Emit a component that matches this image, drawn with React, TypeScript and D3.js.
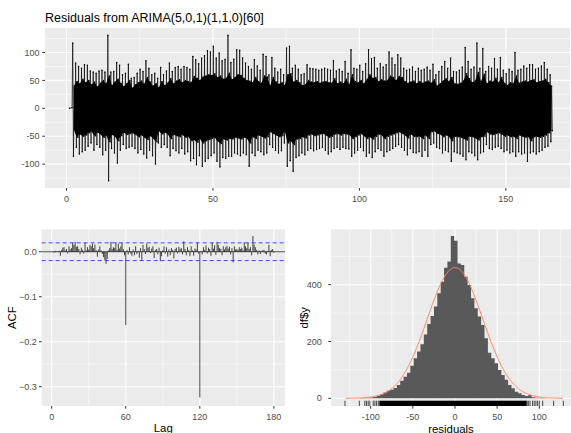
import React from "react";
import * as d3 from "d3";

// ---------------- data ----------------
const titleText = "Residuals from ARIMA(5,0,1)(1,1,0)[60]";

// Residual series: leading flat part, then per-unit-time extremes (bucket start 2..165)
const residLeadTime = [1, 1.9];
const residLeadValue = [0, 1];
const residBucketStart = d3.range(2, 166);
const residHigh = [
  117, 81, 75, 72, 78, 77, 67, 65, 63, 67, 68, 65, 131, 65, 66, 82, 77, 60, 63, 79,
  54, 55, 63, 70, 66, 85, 72, 60, 63, 54, 73, 60, 67, 81, 66, 73, 75, 70, 75, 73,
  70, 93, 87, 80, 90, 94, 103, 101, 111, 90, 99, 85, 88, 131, 82, 88, 105, 104, 90, 81,
  75, 70, 87, 76, 68, 97, 93, 60, 91, 72, 65, 70, 60, 108, 111, 72, 77, 70, 60, 62,
  78, 72, 71, 70, 68, 70, 72, 70, 68, 85, 67, 70, 66, 84, 63, 105, 72, 70, 77, 66,
  80, 105, 89, 91, 72, 80, 74, 78, 101, 90, 78, 96, 90, 72, 68, 70, 74, 66, 72, 68,
  70, 74, 68, 79, 60, 66, 75, 84, 72, 90, 66, 65, 68, 74, 109, 84, 70, 74, 117, 72,
  107, 66, 75, 72, 89, 70, 91, 68, 62, 70, 66, 100, 68, 70, 76, 72, 78, 78, 70, 72,
  76, 82, 70, 60,
];
const residLow = [
  -86, -70, -82, -78, -75, -68, -62, -75, -65, -70, -83, -75, -130, -72, -80, -98, -75, -65, -72, -70,
  -68, -72, -80, -74, -82, -89, -75, -85, -100, -62, -70, -65, -70, -85, -72, -76, -80, -72, -82, -78,
  -94, -90, -101, -85, -104, -95, -90, -85, -80, -95, -105, -88, -90, -86, -86, -80, -82, -85, -80, -83,
  -104, -80, -85, -75, -78, -83, -80, -65, -70, -75, -80, -76, -62, -104, -94, -113, -88, -85, -80, -83,
  -75, -72, -76, -74, -72, -70, -75, -82, -78, -72, -70, -74, -70, -72, -73, -86, -80, -75, -70, -76,
  -86, -80, -88, -78, -72, -75, -86, -78, -75, -72, -68, -65, -70, -75, -83, -72, -79, -80, -78, -86,
  -75, -86, -65, -62, -70, -72, -80, -75, -78, -95, -78, -80, -82, -86, -92, -78, -80, -85, -92, -80,
  -78, -65, -72, -74, -70, -68, -72, -78, -75, -80, -78, -86, -78, -82, -80, -95, -80, -78, -82, -78,
  -75, -70, -68, -60,
];
// dense inner swing of each unit of time
const coreHigh = [
  40, 48, 44, 52, 46, 50, 42, 47, 38, 45, 50, 44, 58, 41, 47, 52, 45, 39, 44, 50,
  36, 42, 46, 49, 43, 55, 47, 40, 44, 37, 48, 41, 45, 53, 44, 49, 51, 46, 50, 48,
  46, 57, 54, 50, 56, 58, 60, 59, 62, 55, 58, 52, 54, 63, 51, 55, 60, 59, 54, 50,
  49, 46, 55, 48, 45, 58, 56, 40, 55, 47, 43, 46, 41, 60, 62, 47, 50, 46, 41, 42,
  50, 47, 46, 48, 45, 47, 48, 46, 45, 53, 44, 47, 44, 52, 42, 60, 48, 46, 50, 44,
  51, 60, 54, 55, 48, 51, 49, 50, 58, 55, 50, 57, 55, 48, 45, 47, 49, 44, 48, 45,
  47, 49, 45, 51, 40, 44, 49, 53, 48, 55, 44, 43, 45, 49, 62, 53, 46, 49, 64, 48,
  61, 44, 49, 47, 54, 46, 55, 45, 41, 46, 44, 58, 45, 47, 49, 47, 50, 51, 46, 48,
  49, 52, 46, 40,
];
const coreLow = [
  -38, -52, -46, -50, -48, -44, -41, -49, -43, -46, -52, -48, -60, -47, -50, -58, -49, -43, -47, -45,
  -44, -47, -51, -48, -52, -56, -49, -53, -60, -40, -46, -43, -46, -54, -47, -49, -51, -47, -52, -50,
  -58, -56, -61, -54, -62, -58, -56, -54, -52, -58, -63, -55, -57, -54, -55, -52, -53, -55, -52, -53,
  -62, -51, -54, -48, -50, -53, -51, -42, -45, -48, -51, -49, -40, -62, -58, -65, -55, -54, -51, -53,
  -48, -46, -49, -48, -46, -45, -48, -52, -50, -46, -45, -48, -45, -46, -47, -54, -51, -48, -45, -49,
  -54, -51, -55, -50, -46, -48, -54, -50, -48, -46, -44, -42, -45, -48, -53, -46, -50, -51, -50, -54,
  -48, -54, -42, -40, -45, -46, -51, -48, -50, -58, -50, -51, -52, -54, -57, -50, -51, -53, -57, -51,
  -50, -42, -46, -47, -45, -44, -46, -50, -48, -51, -50, -54, -48, -50, -52, -50, -58, -51, -50, -52,
  -50, -48, -44, -40,
];
const timeTicks = [0, 50, 100, 150];
const timeMinor = [25, 75, 125];
const residTicks = [-100, -50, 0, 50, 100];
const residMinor = [-125, -75, -25, 25, 75, 125];

// ACF
const acfLags = d3.range(1, 181);
const acfValues = [
  0.001, -0.002, 0.002, 0.001, -0.001, 0.002, -0.009, 0.004, 0.009, 0.010,
  0.003, 0.006, -0.004, 0.012, 0.005, 0.008, 0.020, 0.015, 0.022, 0.011,
  0.012, 0.006, -0.006, 0.009, 0.004, -0.004, 0.020, 0.003, 0.010, 0.005,
  0.015, 0.012, 0.018, 0.008, 0.016, 0.004, -0.011, 0.005, 0.012, 0.003,
  -0.005, -0.012, -0.018, -0.027, -0.016, 0.003, 0.008, 0.022, 0.006, 0.010,
  0.008, 0.021, 0.004, 0.018, 0.007, 0.012, 0.020, 0.006, -0.008, -0.163,
  0.004, -0.006, 0.010, -0.004, -0.009, 0.005, -0.008, 0.012, -0.005, 0.002,
  -0.013, 0.008, -0.020, 0.015, 0.006, -0.005, 0.018, 0.009, 0.011, -0.003,
  0.007, 0.012, -0.014, 0.004, 0.006, -0.006, 0.009, -0.021, -0.010, 0.003,
  0.012, -0.004, 0.010, -0.011, 0.005, -0.008, 0.008, 0.004, -0.015, 0.006,
  0.009, -0.004, 0.011, 0.006, 0.008, -0.006, 0.023, 0.006, -0.008, 0.010,
  0.004, -0.010, 0.012, 0.003, -0.009, 0.007, 0.005, 0.020, -0.004, -0.324,
  0.002, -0.006, 0.010, 0.004, 0.014, -0.004, 0.009, 0.006, -0.009, 0.020,
  0.007, 0.014, -0.007, 0.022, 0.015, 0.008, 0.006, -0.008, 0.012, 0.005,
  0.010, 0.013, 0.007, 0.011, -0.006, 0.008, -0.024, 0.012, 0.005, 0.006,
  0.004, 0.010, 0.006, 0.009, 0.004, 0.021, 0.012, 0.008, 0.020, 0.006,
  0.010, -0.008, 0.035, 0.016, 0.010, 0.004, -0.006, 0.003, -0.005, 0.002,
  0.003, 0.004, -0.004, -0.006, 0.002, 0.015, -0.010, 0.004, 0.006, -0.002,
];
const nObs = 9900;
const lagTicks = [0, 60, 120, 180];
const lagMinor = [30, 90, 150];
const acfTicks = [-0.3, -0.2, -0.1, 0.0];
const acfMinor = [-0.25, -0.15, -0.05];

// Histogram
const binWidth = 4;
const binCenters = d3.range(-127, 126, 4);
const binCounts = [
  1, 0, 0, 0, 1, 2, 2, 3, 5, 9, 13, 20, 27, 30, 36, 47, 62, 76, 90, 115,
  141, 165, 190, 225, 262, 290, 323, 370, 410, 460, 482, 571, 555, 475, 469, 428, 399, 352, 317, 288,
  258, 211, 160, 141, 123, 100, 82, 65, 47, 35, 23, 18, 12, 8, 12, 4, 2, 2, 1, 0,
  0, 0, 0, 1,
];
const residMean = 0;
const residSd = 33;
const curvePeak = 460;
const curveRange = [-130, 128];
const rugTails = [-130.5, -113.5, -107, -105, -103, -101, -97, -95, -93, -91, -89.5,
  85.5, 87, 89, 92, 94, 96, 98, 100, 104, 117, 128.5];
const rugDense = [-89, 85];
const histXTicks = [-100, -50, 0, 50, 100];
const histXMinor = [-125, -75, -25, 25, 75, 125];
const histYTicks = [0, 200, 400];
const histYMinor = [100, 300, 500];

// ---------------- drawing ----------------
const FONT = "'Liberation Sans', Arial, Helvetica, sans-serif";
const BG = "#EBEBEB";
const TICK_COL = "#333333";
const LAB_COL = "#4D4D4D";

function PanelBg({ xs, ys, xMajor, xMinor, yMajor, yMinor }) {
  const [x0, x1] = xs.range();
  const [y0, y1] = ys.range();
  const top = Math.min(y0, y1), bot = Math.max(y0, y1);
  return (
    <g>
      <rect x={x0} y={top} width={x1 - x0} height={bot - top} fill={BG} />
      {xMinor.map((v) => (
        <line key={"xm" + v} x1={xs(v)} x2={xs(v)} y1={top} y2={bot} stroke="#fff" strokeWidth={0.55} />
      ))}
      {yMinor.map((v) => (
        <line key={"ym" + v} x1={x0} x2={x1} y1={ys(v)} y2={ys(v)} stroke="#fff" strokeWidth={0.55} />
      ))}
      {xMajor.map((v) => (
        <line key={"xM" + v} x1={xs(v)} x2={xs(v)} y1={top} y2={bot} stroke="#fff" strokeWidth={1.1} />
      ))}
      {yMajor.map((v) => (
        <line key={"yM" + v} x1={x0} x2={x1} y1={ys(v)} y2={ys(v)} stroke="#fff" strokeWidth={1.1} />
      ))}
    </g>
  );
}

function Axes({ xs, ys, xTicks, yTicks, xFmt, yFmt, xLabY, yLabX }) {
  const [x0] = xs.range();
  const [y0] = ys.range();
  const bot = y0;
  return (
    <g fontFamily={FONT} fontSize={9} fill={LAB_COL}>
      {xTicks.map((v) => (
        <g key={"xt" + v}>
          <line x1={xs(v)} x2={xs(v)} y1={bot} y2={bot + 2.7} stroke={TICK_COL} strokeWidth={1} />
          <text x={xs(v)} y={xLabY} textAnchor="middle">{xFmt(v)}</text>
        </g>
      ))}
      {yTicks.map((v) => (
        <g key={"yt" + v}>
          <line x1={x0 - 2.7} x2={x0} y1={ys(v)} y2={ys(v)} stroke={TICK_COL} strokeWidth={1} />
          <text x={yLabX} y={ys(v)} dy="0.35em" textAnchor="end">{yFmt(v)}</text>
        </g>
      ))}
    </g>
  );
}

export default function App() {
  // ---- top panel
  const tx = d3.scaleLinear().domain([-7.34, 171.9]).range([45, 570]);
  const ty = d3.scaleLinear().domain([-142.8, 143.9]).range([188, 28]);

  const pts: [number, number][] = [];
  residLeadTime.forEach((t, i) => pts.push([t, residLeadValue[i]]));
  residBucketStart.forEach((t, i) => {
    pts.push([t + 0.125, residHigh[i]]);
    pts.push([t + 0.375, residLow[i]]);
    pts.push([t + 0.625, coreHigh[i]]);
    pts.push([t + 0.875, coreLow[i]]);
  });
  const line = d3.line<[number, number]>().x((d) => tx(d[0])).y((d) => ty(d[1]));
  const coreArea = d3
    .area<number>()
    .x((t) => tx(t + 0.5))
    .y0((_, i) => ty(coreLow[i]))
    .y1((_, i) => ty(coreHigh[i]));

  // ---- ACF panel
  const ax = d3.scaleLinear().domain([-8.1, 189]).range([41.7, 285]);
  const ay = d3.scaleLinear().domain([-0.3429, 0.0498]).range([406, 229.3]);
  const ci = 1.96 / Math.sqrt(nObs);

  // ---- histogram panel
  const hx = d3.scaleLinear().domain([-147.1, 137.6]).range([331, 571]);
  const hy = d3.scaleLinear().domain([-27.1, 595]).range([406, 229.3]);
  const histPts: [number, number][] = [[binCenters[0] - binWidth / 2, 0]];
  binCenters.forEach((c, i) => {
    histPts.push([c - binWidth / 2, binCounts[i]]);
    histPts.push([c + binWidth / 2, binCounts[i]]);
  });
  histPts.push([binCenters[binCenters.length - 1] + binWidth / 2, 0]);
  const histLine = d3.line<[number, number]>().x((d) => hx(d[0])).y((d) => hy(d[1]));
  const curveX = d3.range(curveRange[0], curveRange[1] + 0.01, 1);
  const curve = d3
    .line<number>()
    .x((v) => hx(v))
    .y((v) => hy(curvePeak * Math.exp(-((v - residMean) ** 2) / (2 * residSd * residSd))));
  const rugTop = 406 - 0.03 * (406 - 229.3);

  const fmtAcf = (v: number) => (v === 0 ? "0.0" : d3.format(".1f")(v));

  return (
    <svg
      width={571}
      height={433}
      style={{ position: "absolute", left: 0, top: 0, background: "#fff" }}
      fontFamily={FONT}
    >
      <rect x={0} y={0} width={571} height={433} fill="#fff" />
      {/* ---------- top panel ---------- */}
      <text x={45} y={22.3} fontSize={12.5} fill="#000">{titleText}</text>
      <PanelBg xs={tx} ys={ty} xMajor={timeTicks} xMinor={timeMinor} yMajor={residTicks} yMinor={residMinor} />
      <path d={line(pts) || ""} fill="none" stroke="#000" strokeWidth={0.85} strokeOpacity={0.8} strokeLinejoin="round" />
      <path d={coreArea(residBucketStart) || ""} fill="#000" />
      {pts.map((d, i) => (
        <circle key={i} cx={tx(d[0])} cy={ty(d[1])} r={0.75} fill="#000" />
      ))}
      <Axes xs={tx} ys={ty} xTicks={timeTicks} yTicks={residTicks} xFmt={(v) => String(v)} yFmt={(v) => String(v)} xLabY={201.5} yLabX={39.5} />

      {/* ---------- ACF panel ---------- */}
      <PanelBg xs={ax} ys={ay} xMajor={lagTicks} xMinor={lagMinor} yMajor={acfTicks} yMinor={acfMinor} />
      <line x1={41.7} x2={285} y1={ay(0)} y2={ay(0)} stroke="#222" strokeWidth={1.1} strokeOpacity={0.8} />
      {acfLags.map((l, i) => (
        <line key={l} x1={ax(l)} x2={ax(l)} y1={ay(0)} y2={ay(acfValues[i])} stroke="#000" strokeWidth={0.8} strokeOpacity={0.9} />
      ))}
      {[ci, -ci].map((c) => (
        <line key={c} x1={41.7} x2={285} y1={ay(c)} y2={ay(c)} stroke="#3333FF" strokeWidth={0.9} strokeDasharray="4,3" />
      ))}
      <Axes xs={ax} ys={ay} xTicks={lagTicks} yTicks={acfTicks} xFmt={(v) => String(v)} yFmt={fmtAcf} xLabY={419.5} yLabX={36.7} />
      <text x={163.3} y={432} fontSize={11.4} fill="#000" textAnchor="middle">Lag</text>
      <text transform={`translate(16,317.7) rotate(-90)`} fontSize={11.4} fill="#000" textAnchor="middle">ACF</text>

      {/* ---------- histogram panel ---------- */}
      <PanelBg xs={hx} ys={hy} xMajor={histXTicks} xMinor={histXMinor} yMajor={histYTicks} yMinor={histYMinor} />
      <path d={(histLine(histPts) || "") + "Z"} fill="#595959" />
      <path d={curve(curveX) || ""} fill="none" stroke="#FF8A62" strokeWidth={1} />
      <rect x={hx(rugDense[0])} width={hx(rugDense[1]) - hx(rugDense[0])} y={rugTop} height={406 - rugTop} fill="#000" />
      {rugTails.map((v) => (
        <line key={v} x1={hx(v)} x2={hx(v)} y1={rugTop} y2={406} stroke="#000" strokeWidth={0.7} />
      ))}
      <Axes xs={hx} ys={hy} xTicks={histXTicks} yTicks={histYTicks} xFmt={(v) => String(v)} yFmt={(v) => String(v)} xLabY={419.5} yLabX={321.7} />
      <text x={451} y={432.5} fontSize={11.4} fill="#000" textAnchor="middle">residuals</text>
      <text transform={`translate(307.5,317.7) rotate(-90)`} fontSize={11.4} fill="#000" textAnchor="middle">df$y</text>
    </svg>
  );
}
